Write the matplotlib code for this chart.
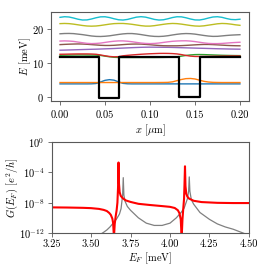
import matplotlib
matplotlib.use("Agg")
import matplotlib.pyplot as plt
import numpy as np

plt.rcParams['font.family'] = 'serif'
plt.rcParams['font.serif'] = ['cmr10', 'DejaVu Serif']
plt.rcParams['mathtext.fontset'] = 'cm'
plt.rcParams['axes.formatter.use_mathtext'] = True
plt.rcParams['font.size'] = 7.5

# ---- top panel: subband energies along the wire ----
x_pos = [0.005 * i for i in range(41)]

band_cyan = [23.41, 23.59, 23.51, 23.21, 22.85, 22.62, 22.65, 22.92, 23.28, 23.55,
             23.58, 23.35, 22.99, 22.69, 22.61, 22.79, 23.14, 23.47, 23.60, 23.47,
             23.14, 22.79, 22.61, 22.69, 22.99, 23.35, 23.58, 23.55, 23.28, 22.92,
             22.65, 22.62, 22.85, 23.21, 23.51, 23.59, 23.41, 23.06, 22.78, 22.72, 22.85]
band_olive = [21.55, 21.6, 21.55, 21.4, 21.2, 21.0, 20.85, 20.8, 20.85, 21.0,
              21.2, 21.4, 21.55, 21.6, 21.6, 21.5, 21.35, 21.15, 20.95, 20.82,
              20.82, 20.95, 21.15, 21.35, 21.52, 21.6, 21.55, 21.4, 21.2, 21.0,
              20.85, 20.8, 20.9, 21.1, 21.3, 21.5, 21.6, 21.55, 21.4, 21.2, 21.05]
band_gray = [18.55, 18.63, 18.65, 18.6, 18.45, 18.3, 18.1, 17.9, 17.78, 17.75,
             17.82, 17.95, 18.15, 18.35, 18.52, 18.62, 18.62, 18.5, 18.32, 18.1,
             17.9, 17.78, 17.75, 17.82, 17.98, 18.2, 18.4, 18.55, 18.62, 18.58,
             18.45, 18.25, 18.05, 17.88, 17.78, 17.8, 17.92, 18.05, 18.15, 18.22, 18.28]
band_pink = [16.4, 16.45, 16.4, 16.3, 16.1, 15.9, 15.72, 15.65, 15.7, 15.8,
             16.0, 16.2, 16.35, 16.45, 16.45, 16.35, 16.2, 16.0, 15.82, 15.7,
             15.65, 15.7, 15.82, 16.0, 16.18, 16.33, 16.42, 16.47, 16.48, 16.4,
             16.25, 16.05, 15.85, 15.7, 15.65, 15.65, 15.7, 15.8, 15.9, 15.98, 16.05]
band_brown = [15.35, 15.42, 15.48, 15.52, 15.55, 15.52, 15.45, 15.35, 15.25, 15.15,
              15.1, 15.1, 15.15, 15.25, 15.35, 15.45, 15.5, 15.52, 15.5, 15.42,
              15.32, 15.2, 15.1, 15.02, 15.0, 15.0, 15.0, 15.05, 15.12, 15.2,
              15.28, 15.35, 15.4, 15.4, 15.35, 15.28, 15.2, 15.12, 15.06, 15.02, 15.0]
band_purple = [13.7, 13.73, 13.77, 13.81, 13.85, 13.89, 13.93, 13.97, 14.0, 14.05,
               14.1, 14.15, 14.2, 14.27, 14.33, 14.39, 14.45, 14.5, 14.55, 14.58,
               14.6, 14.59, 14.58, 14.56, 14.55, 14.52, 14.48, 14.44, 14.4, 14.36,
               14.32, 14.28, 14.25, 14.21, 14.17, 14.13, 14.1, 14.07, 14.04, 14.02, 14.0]
band_red = [12.5, 12.52, 12.55, 12.58, 12.6, 12.6, 12.6, 12.57, 12.5, 12.3,
            12.05, 11.85, 11.75, 11.8, 12.05, 12.18, 12.3, 12.4, 12.5, 12.58,
            12.65, 12.7, 12.75, 12.76, 12.75, 12.7, 12.6, 12.4, 12.15, 11.95,
            11.85, 11.84, 11.85, 11.87, 11.9, 11.92, 11.95, 11.97, 12.0, 12.0, 12.0]
band_green = [12.2, 12.23, 12.26, 12.28, 12.3, 12.3, 12.28, 12.27, 12.25, 12.15,
              11.95, 11.75, 11.6, 11.55, 11.55, 11.55, 11.55, 11.55, 11.55, 11.55,
              11.55, 11.55, 11.56, 11.58, 11.6, 11.65, 11.75, 11.95, 12.15, 12.3,
              12.4, 12.42, 12.4, 12.35, 12.3, 12.25, 12.2, 12.17, 12.14, 12.12, 12.1]
band_orange = [4.15, 4.15, 4.15, 4.15, 4.15, 4.15, 4.15, 4.15, 4.15, 4.15,
               4.15, 4.15, 4.15, 4.15, 4.15, 4.15, 4.15, 4.15, 4.15, 4.15,
               4.15, 4.15, 4.16, 4.17, 4.2, 4.35, 4.7, 5.05, 5.3, 5.35,
               5.2, 4.85, 4.5, 4.3, 4.2, 4.17, 4.15, 4.15, 4.15, 4.15, 4.15]
band_blue = [3.75, 3.75, 3.75, 3.75, 3.75, 3.75, 3.75, 3.77, 3.85, 4.3,
             4.8, 5.0, 4.85, 4.35, 3.9, 3.78, 3.75, 3.75, 3.75, 3.75,
             3.75, 3.75, 3.75, 3.75, 3.75, 3.75, 3.75, 3.75, 3.75, 3.75,
             3.75, 3.75, 3.75, 3.75, 3.75, 3.75, 3.75, 3.75, 3.75, 3.75, 3.75]

bands = [band_blue, band_orange, band_green, band_red, band_purple,
         band_brown, band_pink, band_gray, band_olive, band_cyan]
band_colors = ['tab:blue', 'tab:orange', 'tab:green', 'tab:red', 'tab:purple',
               'tab:brown', 'tab:pink', 'tab:gray', 'tab:olive', 'tab:cyan']

# potential profile (double well)
pot_x = [0.0, 0.0429, 0.0429, 0.0659, 0.0659, 0.1325, 0.1325, 0.1555, 0.1555, 0.2]
pot_v = [11.8, 11.8, -0.4, -0.4, 11.8, 11.8, 0.0, 0.0, 11.8, 11.8]

# ---- bottom panel: conductance vs Fermi energy (log10 values) ----
ef_red = [3.25, 3.35, 3.45, 3.50, 3.55, 3.58, 3.60, 3.615, 3.625, 3.635, 3.64, 3.645,
          3.65, 3.656, 3.662, 3.667, 3.671, 3.674, 3.677, 3.681, 3.688, 3.70, 3.72,
          3.75, 3.80, 3.87, 3.95, 4.00, 4.03, 4.05, 4.06, 4.068, 4.074, 4.079, 4.084,
          4.089, 4.092, 4.095, 4.098, 4.103, 4.11, 4.12, 4.15, 4.2, 4.3, 4.4, 4.5]
logg_red = [-8.62, -8.64, -8.68, -8.72, -8.82, -8.95, -9.1, -9.35, -9.6, -10.1, -10.7, -12.6,
            -10.8, -9.8, -9.0, -8.0, -6.0, -2.7, -5.5, -6.6, -7.1, -7.4, -7.7,
            -7.9, -8.15, -8.3, -8.45, -8.55, -8.7, -9.0, -9.4, -10.2, -12.6, -10.2, -8.8,
            -7.5, -5.5, -3.2, -5.8, -6.8, -7.2, -7.45, -7.75, -7.92, -8.02, -8.05, -8.05]

ef_gray = [3.25, 3.50, 3.55, 3.58, 3.60, 3.62, 3.64, 3.66, 3.68, 3.69, 3.70, 3.704,
           3.708, 3.715, 3.73, 3.75, 3.77, 3.80, 3.85, 3.90, 3.95, 4.00, 4.04, 4.07,
           4.09, 4.11, 4.118, 4.122, 4.126, 4.135, 4.15, 4.19, 4.25, 4.30, 4.35, 4.40,
           4.45, 4.50]
logg_gray = [-13.0, -13.0, -12.3, -11.9, -11.6, -11.2, -10.7, -10.2, -9.5, -8.8, -7.0, -4.7,
             -7.0, -7.8, -8.5, -9.0, -9.4, -10.0, -10.7, -11.0, -11.0, -10.7, -10.0, -9.3,
             -8.7, -7.5, -6.5, -4.6, -6.5, -7.6, -8.2, -9.3, -10.2, -10.8, -11.2, -11.5,
             -11.9, -12.3]

fig = plt.figure(figsize=(2.7, 2.7), dpi=100)
ax1 = fig.add_axes([0.189, 0.626, 0.733, 0.331])
ax2 = fig.add_axes([0.191, 0.137, 0.731, 0.337])

for b, c in zip(bands, band_colors):
    ax1.plot(x_pos, b, color=c, lw=1.0)
ax1.plot(pot_x, pot_v, color='k', lw=1.6)
ax1.set_xlim(-0.01, 0.21)
ax1.set_ylim(-1.3, 25.1)
ax1.set_xticks([0.0, 0.05, 0.10, 0.15, 0.20])
ax1.set_xticklabels(['0.00', '0.05', '0.10', '0.15', '0.20'])
ax1.set_yticks([0, 10, 20])
ax1.set_xlabel(r'$x$ [$\mu$m]', labelpad=2)
ax1.set_ylabel(r'$E$ [meV]')
ax1.yaxis.set_label_coords(-0.09, 0.5)
ax1.tick_params(axis='x', pad=4)

ax2.plot(ef_gray, 10.0 ** np.array(logg_gray), color='0.5', lw=0.9)
ax2.plot(ef_red, 10.0 ** np.array(logg_red), color='red', lw=1.5)
ax2.set_yscale('log')
ax2.set_xlim(3.25, 4.5)
ax2.set_ylim(1e-12, 1)
ax2.set_yticks([1e-12, 1e-8, 1e-4, 1])
ax2.yaxis.set_minor_locator(matplotlib.ticker.NullLocator())
ax2.set_xticks([3.25, 3.5, 3.75, 4.0, 4.25, 4.5])
ax2.set_xticklabels(['3.25', '3.50', '3.75', '4.00', '4.25', '4.50'])
ax2.set_xlabel(r'$E_F$ [meV]', labelpad=1)
ax2.set_ylabel(r'$G(E_F)$ $[e^2/h]$')
ax2.yaxis.set_label_coords(-0.16, 0.5)
ax2.tick_params(axis='x', pad=1.5)

for ax in (ax1, ax2):
    for s in ax.spines.values():
        s.set_color('0.35')
        s.set_linewidth(0.8)
    ax.tick_params(length=3, width=0.6, color='0.35')
    ax.tick_params(axis='y', pad=2)

fig.savefig('out.png', dpi=100)
